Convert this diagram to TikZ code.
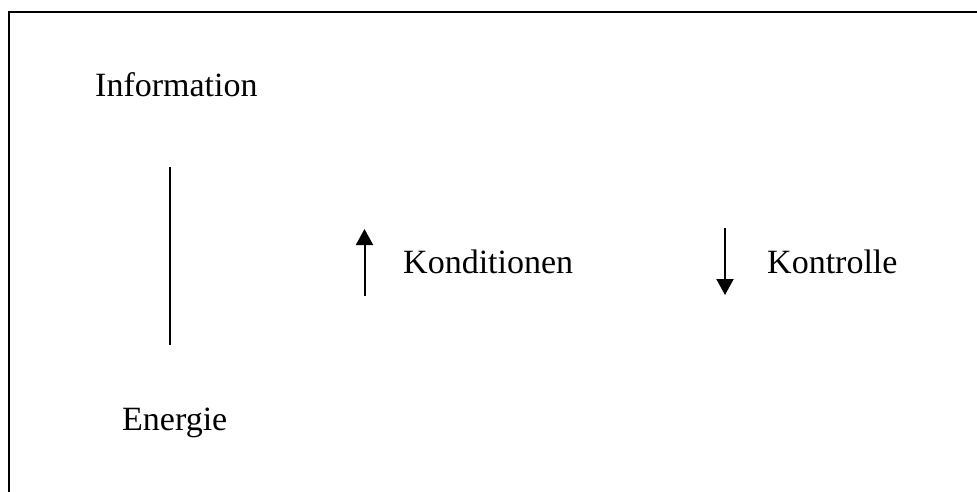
\documentclass[tikz,border=0pt]{standalone}
\usepackage{fontspec}
\setmainfont{Liberation Serif}
\usetikzlibrary{arrows.meta}
\tikzset{
  lbl/.style={anchor=base west, inner sep=0pt, font=\fontsize{34}{40}\selectfont},
  frameline/.style={line width=2.2pt, line cap=rect},
  conn/.style={line width=2pt},
  arr/.style={conn, -{Triangle[width=17pt,length=16pt]}}
}
\begin{document}
\begin{tikzpicture}[x=1pt,y=-1pt]
\useasboundingbox (0,0) rectangle (977,492);
\coordinate (tl) at (9,12);
\coordinate (tr) at (977,12);
\coordinate (bl) at (9,493);
\draw[frameline] (tr) -- (tl) -- (bl);
\node[lbl] (info) at (95,97) {Information};
\node[lbl] (energ) at (122,430) {Energie};
\node[lbl] (kond) at (403,273) {Konditionen};
\node[lbl] (kontr) at (767,273) {Kontrolle};
\coordinate (v1) at (170,167);
\coordinate (v2) at (170,345);
\draw[conn] (v1) -- (v2);
\coordinate (u1) at (364.5,296);
\coordinate (u2) at (364.5,229);
\draw[arr] (u1) -- (u2);
\coordinate (d1) at (725,228);
\coordinate (d2) at (725,295);
\draw[arr] (d1) -- (d2);
\end{tikzpicture}
\end{document}
